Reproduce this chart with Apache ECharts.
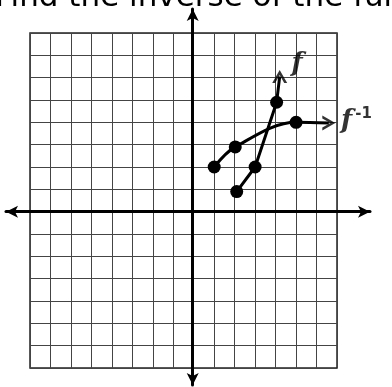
<!DOCTYPE html>
<html>
<head>
<meta charset="utf-8">
<script src="https://cdn.jsdelivr.net/npm/echarts@6/dist/echarts.min.js"></script>
<style>
  html, body { margin: 0; padding: 0; background: #fff; }
  #main { width: 392px; height: 387px; }
</style>
</head>
<body>
<div id="main"></div>
<script type="text/javascript">
  // points (grid units)
  var fX = [2.1, 3, 4.05];
  var fY = [0.9, 2, 4.9];
  var fTip = [4.2, 6.05];
  var invX = [1, 2.03, 5];
  var invY = [2, 2.9, 4];
  var invTip = [6.6, 3.97];
  var labelNames = ['{a|f}', '{a|f}{b|-1}'];
  var labelPos = [[5.1, 6.6], [8.0, 4.05]];

  var chevron = 'path://M0,12 L6,0 L12,12 L9.6,12 L6,4.5 L2.4,12 Z';

  function pairs(xs, ys){
    var out = [];
    for (var i = 0; i < xs.length; i++) out.push([xs[i], ys[i]]);
    return out;
  }

  var fData = pairs(fX, fY);
  fData.push({value: fTip, symbol: 'none'});
  var invData = pairs(invX, invY);
  invData.push({value: invTip, symbol: 'none'});

  var dom = document.getElementById('main');
  var myChart = echarts.init(dom);
  myChart.setOption({
    animation: false,
    grid: [
      { left: 30, right: 55, top: 33, bottom: 19, show: true, borderColor: '#222', borderWidth: 1.5 },
      { left: 6, right: 22, top: 9, bottom: 2 }
    ],
    xAxis: [
      {
        gridIndex: 0, type: 'value', min: -8, max: 7, interval: 1,
        axisLine: { show: false }, axisTick: { show: false }, axisLabel: { show: false },
        splitLine: { lineStyle: { color: '#444', type: 'solid', width: 1 } }
      },
      {
        gridIndex: 1, type: 'value', min: -9.12, max: 8.66,
        axisLine: { onZero: true, symbol: ['arrow', 'arrow'], symbolSize: [9, 12], lineStyle: { color: '#000', width: 3 } },
        axisTick: { show: false }, axisLabel: { show: false }, splitLine: { show: false }
      }
    ],
    yAxis: [
      {
        gridIndex: 0, type: 'value', min: -7, max: 8, interval: 1,
        axisLine: { show: false }, axisTick: { show: false }, axisLabel: { show: false },
        splitLine: { lineStyle: { color: '#444', type: 'solid', width: 1 } }
      },
      {
        gridIndex: 1, type: 'value', min: -7.76, max: 9.08,
        axisLine: { onZero: true, symbol: ['arrow', 'arrow'], symbolSize: [9, 12], lineStyle: { color: '#000', width: 3 } },
        axisTick: { show: false }, axisLabel: { show: false }, splitLine: { show: false }
      }
    ],
    series: [
      {
        name: 'f', type: 'line', xAxisIndex: 0, yAxisIndex: 0,
        data: fData, symbol: 'circle', symbolSize: 13,
        itemStyle: { color: '#000' }, lineStyle: { color: '#000', width: 3 }
      },
      {
        name: 'f^-1', type: 'line', xAxisIndex: 0, yAxisIndex: 0, smooth: 0.35,
        data: invData, symbol: 'circle', symbolSize: 13,
        itemStyle: { color: '#000' }, lineStyle: { color: '#000', width: 3 }
      },
      {
        name: 'arrows', type: 'scatter', xAxisIndex: 0, yAxisIndex: 0,
        symbol: chevron, symbolSize: [15, 13],
        itemStyle: { color: '#000' },
        data: [
          { value: fTip, symbolRotate: 0 },
          { value: invTip, symbolRotate: -90 }
        ]
      },
      {
        name: 'labels', type: 'scatter', xAxisIndex: 1, yAxisIndex: 1,
        symbolSize: 0,
        label: {
          show: true, position: 'inside', color: '#000',
          formatter: function(p){ return labelNames[p.dataIndex]; },
          rich: {
            a: { fontFamily: 'DejaVu Serif', fontStyle: 'italic', fontWeight: 'bold', fontSize: 26, color: '#000' },
            b: { fontFamily: 'DejaVu Sans', fontWeight: 'bold', fontSize: 15, color: '#000', padding: [0, 0, 14, 3] }
          }
        },
        data: labelPos
      }
    ],
    graphic: [
      {
        type: 'text', x: -5, y: 13, z: 100,
        style: { text: 'Find the inverse of the function', fill: '#000', font: '31px "DejaVu Sans"', verticalAlign: 'bottom' }
      }
    ]
  });
</script>
</body>
</html>
